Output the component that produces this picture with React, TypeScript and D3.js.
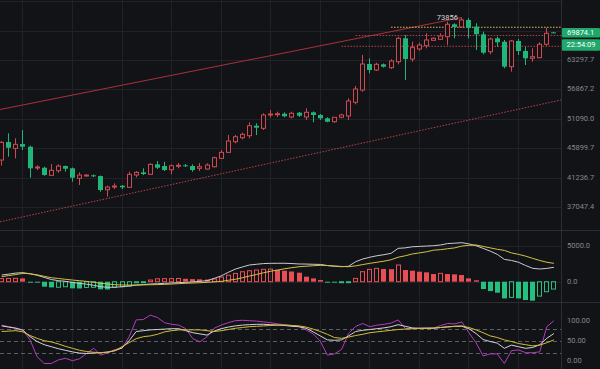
import React from 'react';
import * as d3 from 'd3';

// daily candles, oldest first
const opens = [
  43996, 46970, 45900, 46630, 46180, 42740, 42780, 41615, 42316, 43047,
  42690, 41165, 41555, 41615, 41510, 39491, 39880, 40070, 39837, 41660,
  42070, 41767, 43313, 43047, 42471, 43000, 43156, 43047, 42690, 42580,
  42940, 44270, 45240, 47026, 47710, 48062, 49845, 49377, 51822, 51879,
  52069, 51450, 52260, 51450, 52335, 51822, 51201, 50575, 51396, 51640,
  54275, 56752, 62383, 61036, 62315, 61552, 62907, 68500, 63530, 65880,
  66676, 68002, 68252, 68900, 72077, 71375, 73216, 71453, 69500, 65239,
  68500, 67655, 61775, 67828, 65405, 63690, 63830, 67020, 69994,
];
const closes = [
  46920, 46010, 46580, 46180, 42690, 42890, 41660, 42378, 43047, 42625,
  41255, 41660, 41660, 41465, 39448, 39880, 40026, 39837, 41767, 42070,
  41813, 43313, 42784, 42425, 43094, 43156, 43000, 42425, 42940, 43203,
  44370, 45240, 47146, 47882, 48308, 49845, 49485, 51822, 52012, 52069,
  51580, 52144, 51690, 52335, 51822, 51201, 50575, 51396, 51822, 54532,
  56957, 62383, 61036, 62315, 61775, 63068, 68500, 63530, 66200, 66848,
  68077, 68500, 69073, 72077, 71375, 73216, 71195, 69500, 65003, 68324,
  67507, 61775, 67828, 65405, 63690, 64060, 67020, 69750, 69874.1,
];
const highs = [
  47150, 48490, 47610, 49070, 46350, 43160, 42940, 43360, 43313, 43125,
  42815, 42070, 41767, 41735, 41585, 40070, 40420, 40172, 42163, 42270,
  42690, 43470, 43836, 43725, 43313, 43520, 43360, 43313, 43520, 43470,
  44530, 45626, 48185, 48185, 48594, 50465, 50280, 52144, 52773, 52450,
  52335, 52450, 52393, 53100, 52488, 52012, 51396, 51450, 52069, 55070,
  57584, 64462, 63690, 62680, 62495, 63460, 68900, 69323, 67655, 67410,
  69750, 68700, 69750, 72770, 72340, 73856, 73750, 72340, 70160, 68650,
  68900, 68077, 68077, 68324, 66433, 66053, 67507, 71195, 70120,
];
const lows = [
  43120, 44530, 44270, 45630, 41260, 42420, 41550, 41510, 42010, 42163,
  40655, 40172, 41435, 41360, 39205, 38500, 39592, 39592, 39736, 41315,
  41660, 41660, 42580, 42270, 41767, 42690, 42893, 42163, 42270, 42503,
  42815, 44158, 45128, 46755, 47437, 47610, 48185, 49070, 51322, 51450,
  51396, 51201, 51450, 50888, 50465, 50888, 50465, 50390, 51201, 50888,
  53880, 56410, 60308, 60814, 61596, 61260, 62315, 58856, 62907, 65477,
  66053, 67828, 68077, 66848, 68500, 71246, 68500, 65644, 64626, 64626,
  66433, 61418, 60680, 64462, 62157, 62907, 63690, 66676, 69750,
];

// MACD
const dif = [
  930, 1050, 1200, 1250, 1100, 900, 600, 300, 150, 50,
  -100, -230, -350, -500, -690, -780, -760, -700, -600, -480,
  -400, -320, -280, -230, -180, -130, -90, -20, 50, 140,
  450, 800, 1300, 1750, 2050, 2320, 2420, 2520, 2550, 2560,
  2560, 2520, 2460, 2450, 2420, 2400, 2250, 2150, 2080, 2150,
  2780, 3150, 3400, 3600, 3750, 3940, 4630, 4700, 4850, 4900,
  4950, 5000, 5100, 5300, 5350, 5420, 5250, 5000, 4630, 4250,
  3800, 3100, 2950, 2700, 2250, 1860, 1760, 1850, 2000,
];
const dea = [
  700, 850, 1000, 1160, 1100, 950, 750, 555, 450, 330,
  230, 140, 40, -90, -230, -320, -420, -460, -470, -460,
  -440, -420, -400, -370, -320, -270, -220, -180, -140, -90,
  -20, 40, 200, 330, 550, 790, 1000, 1250, 1450, 1620,
  1800, 1950, 2080, 2150, 2220, 2270, 2240, 2180, 2120, 2080,
  2200, 2380, 2550, 2700, 2850, 3050, 3400, 3600, 3850, 4000,
  4150, 4380, 4450, 4580, 4700, 4950, 5050, 5100, 4900, 4700,
  4500, 4350, 4000, 3800, 3550, 3240, 2950, 2700, 2550,
];
const hist = [
  430, 450, 470, 460, -100, -130, -690, -790, -770, -700,
  -920, -940, -800, -780, -1060, -1080, -790, -690, -600, -150,
  -100, 230, 400, 420, 430, 450, 400, 360, 330, 300,
  380, 650, 900, 1150, 1380, 1520, 1620, 1720, 1750, 1650,
  1520, 1420, 1250, 700, 460, 230, -100, -120, -100, -60,
  460, 1390, 1710, 1850, 1760, 1740, 2320, 1620, 1530, 1390,
  1300, 1065, 1160, 1065, 1020, 925, 460, 200, -1020, -1300,
  -1530, -2320, -2180, -2320, -2550, -2640, -2000, -1390, -1020,
];

// KDJ
const kLine = [
  87, 84, 81, 76, 60, 48, 40, 35, 30, 26,
  22, 19, 18, 19, 20, 22, 25, 32, 50, 73,
  75, 77, 78, 79, 80, 80, 75, 70, 67, 64,
  74, 80, 84, 87, 89, 90, 91, 91, 90, 89,
  88, 86, 85, 81, 72, 62, 52, 51, 52, 62,
  73, 76, 78, 80, 82, 85, 90, 86, 82, 81,
  81, 81, 83, 85, 86, 86, 80, 68, 53, 48,
  44, 31, 39, 35, 31, 33, 40, 56, 68,
];
const dLine = [
  73, 74, 75, 72, 63, 56, 50, 47, 42, 36,
  31, 26, 23, 21, 20, 21, 25, 35, 45, 55,
  60, 62, 66, 72, 75, 77, 77, 77, 77, 75,
  73, 75, 78, 81, 83, 85, 86, 87, 88, 89,
  89, 88, 87, 84, 79, 73, 66, 58, 56, 59,
  63, 66, 70, 72, 74, 76, 78, 79, 80, 81,
  81, 82, 83, 84, 86, 87, 83, 77, 70, 62,
  58, 52, 48, 43, 40, 37, 39, 45, 52,
];
const jLine = [
  89, 85, 82, 77, 52, 10, -7, -7, 2, 6,
  0, 5, 18, 31, 14, 20, 28, 31, 60, 102,
  103, 114, 108, 95, 91, 89, 80, 55, 47, 60,
  81, 89, 95, 100, 101, 100, 99, 97, 95, 92,
  90, 88, 85, 77, 67, 49, 14, 17, 28, 68,
  86, 93, 85, 89, 91, 94, 102, 81, 80, 81,
  82, 81, 88, 93, 92, 97, 70, 45, 12, 17,
  17, -7, 25, 27, 20, 20, 22, 85, 100,
];

const priceTicks = [37047.4, 41236.7, 45899.7, 51090.0, 56867.2, 63297.7];
const priceGridOnly = [70456.2, 78424.5];
const macdTicks = [0, 5000];
const kdjTicks = [0, 50, 100];
const kdjLevels = [20, 50, 80];
const lastPrice = 69874.1;
const countdown = '22:54:09';

// drawn objects: [candle index, price]
const upperTrend: [number, number][] = [[-0.24, 52870], [65, 73856]];
const lowerTrend: [number, number][] = [[-0.24, 35145], [79, 54729]];
const yellowLevel = { price: 71300, from: 55 };
const redLevels = [{ price: 69200, from: 50 }, { price: 66530, from: 48 }];

const W = 600;
const H = 369;
const PR = 561; // right edge of the plot
const SEP1 = 230.5;
const SEP2 = 302.5;

const col = {
  bg: '#121317',
  grid: '#202227',
  sep: '#2c2e34',
  text: '#84878d',
  up: '#cf4a50',
  down: '#21b57a',
  histUp: '#e84f54',
  histDown: '#25c07f',
  dif: '#c9cbd0',
  dea: '#d6c044',
  k: '#d4d4d6',
  d: '#d3bd38',
  j: '#b43cbd',
  trend: '#a8313a',
  level: '#b8434a',
  yellow: '#d9c05a',
  tag: '#1ea86c',
};

export default function App() {
  const n = opens.length;
  const x = d3.scaleLinear().domain([0, n - 1]).range([1.7, 553.9]);
  const yP = d3.scaleLog().domain([37047.4, 63297.7]).range([207.3, 60]);
  const yM = d3.scaleLinear().domain([0, 5000]).range([281.7, 245.7]);
  const yK = d3.scaleLinear().domain([0, 100]).range([360.7, 320.7]);
  const px = (i: number) => Math.floor(x(i)) + 0.5;

  const gridIdx = d3.range(3, n, 7);

  const macdLine = d3.line<number>().x((_, i) => x(i)).y(d => yM(d));
  const kdjLine = d3.line<number>().x((_, i) => x(i)).y(d => yK(d));
  const trendLine = d3.line<[number, number]>().x(d => x(d[0])).y(d => yP(d[1]));

  const hiIdx = d3.maxIndex(highs);
  const font = "Roboto, 'Noto Sans', sans-serif";

  return (
    <svg
      width={W}
      height={H}
      style={{ position: 'fixed', left: 0, top: 0, display: 'block', background: col.bg }}
      fontFamily={font}
    >
      <defs>
        <clipPath id="cMain"><rect x={0} y={0} width={PR} height={SEP1} /></clipPath>
        <clipPath id="cMacd"><rect x={0} y={SEP1} width={PR} height={SEP2 - SEP1} /></clipPath>
        <clipPath id="cKdj"><rect x={0} y={SEP2} width={PR} height={H - SEP2} /></clipPath>
      </defs>
      <rect width={W} height={H} fill={col.bg} />

      {/* grid */}
      {gridIdx.map(i => (
        <line key={'vg' + i} x1={px(i)} x2={px(i)} y1={0} y2={H} stroke={col.grid} />
      ))}
      {[...priceTicks, ...priceGridOnly].map(t => (
        <line key={'hg' + t} x1={0} x2={PR} y1={Math.round(yP(t)) + 0.5} y2={Math.round(yP(t)) + 0.5} stroke={col.grid} />
      ))}
      {macdTicks.map(t => (
        <line key={'mg' + t} x1={0} x2={PR} y1={Math.round(yM(t)) + 0.5} y2={Math.round(yM(t)) + 0.5} stroke={col.grid} />
      ))}
      <line x1={PR + 0.5} x2={PR + 0.5} y1={0} y2={H} stroke={col.sep} />
      <line x1={0} x2={W} y1={SEP1} y2={SEP1} stroke={col.sep} />
      <line x1={0} x2={W} y1={SEP2} y2={SEP2} stroke={col.sep} />

      {/* main panel */}
      <g clipPath="url(#cMain)">
        <path d={trendLine(upperTrend) ?? ''} stroke={col.trend} strokeWidth={1.1} fill="none" />
        <path d={trendLine(lowerTrend) ?? ''} stroke={col.level} strokeWidth={1} strokeDasharray="1.5,1.5" fill="none" />
        <line x1={x(yellowLevel.from)} x2={PR} y1={yP(yellowLevel.price)} y2={yP(yellowLevel.price)}
          stroke={col.yellow} strokeDasharray="1.5,1.5" />
        {redLevels.map(l => (
          <line key={'rl' + l.price} x1={x(l.from)} x2={PR} y1={yP(l.price)} y2={yP(l.price)}
            stroke={col.level} strokeDasharray="1.5,1.5" />
        ))}
        {opens.map((o, i) => {
          const c = closes[i];
          const up = c >= o;
          const color = up ? col.up : col.down;
          const cx = px(i);
          const top = yP(Math.max(o, c));
          const bot = yP(Math.min(o, c));
          const h = Math.max(1, bot - top);
          return (
            <g key={'c' + i}>
              <line x1={cx} x2={cx} y1={yP(highs[i])} y2={yP(lows[i])} stroke={color} />
              {up ? (
                <rect x={cx - 2} y={top} width={4} height={h} fill={col.bg} stroke={color} />
              ) : (
                <rect x={cx - 2.5} y={top} width={5} height={h} fill={color} />
              )}
            </g>
          );
        })}
        <text x={x(hiIdx) - 4} y={yP(highs[hiIdx])} textAnchor="end" dominantBaseline="middle"
          fontSize={7.5} fill="#d2d3d6">{Math.round(highs[hiIdx])}</text>
      </g>

      {/* MACD */}
      <g clipPath="url(#cMacd)">
        {hist.map((v, i) => {
          const hollow = i === 0 || v > hist[i - 1];
          const color = v >= 0 ? col.histUp : col.histDown;
          const cx = px(i);
          const y0 = yM(Math.max(v, 0));
          const h = Math.max(1, Math.abs(yM(v) - yM(0)));
          return hollow ? (
            <rect key={'h' + i} x={cx - 2} y={y0} width={4} height={h} fill="none" stroke={color} />
          ) : (
            <rect key={'h' + i} x={cx - 2.5} y={y0} width={5} height={h} fill={color} />
          );
        })}
        <path d={macdLine(dif) ?? ''} stroke={col.dif} fill="none" strokeWidth={1} />
        <path d={macdLine(dea) ?? ''} stroke={col.dea} fill="none" strokeWidth={1} />
      </g>

      {/* KDJ */}
      <g clipPath="url(#cKdj)">
        {kdjLevels.map(l => (
          <line key={'kl' + l} x1={0} x2={PR} y1={Math.round(yK(l)) + 0.5} y2={Math.round(yK(l)) + 0.5}
            stroke="#5c5f65" strokeDasharray="4,3" />
        ))}
        <path d={kdjLine(jLine) ?? ''} stroke={col.j} fill="none" strokeWidth={1} />
        <path d={kdjLine(kLine) ?? ''} stroke={col.k} fill="none" strokeWidth={1} />
        <path d={kdjLine(dLine) ?? ''} stroke={col.d} fill="none" strokeWidth={1} />
      </g>

      {/* right axis */}
      {priceTicks.map(t => (
        <text key={'pt' + t} x={567} y={yP(t)} dominantBaseline="middle" fontSize={7.5} fill={col.text}>
          {t.toFixed(1)}
        </text>
      ))}
      {macdTicks.map(t => (
        <text key={'mt' + t} x={567} y={yM(t)} dominantBaseline="middle" fontSize={7.5} fill={col.text}>
          {t.toFixed(1)}
        </text>
      ))}
      {kdjTicks.map(t => (
        <text key={'kt' + t} x={567} y={yK(t)} dominantBaseline="middle" fontSize={7.5} fill={col.text}>
          {t.toFixed(2)}
        </text>
      ))}

      {/* last price tag */}
      <rect x={562} y={yP(lastPrice) - 4.8} width={38} height={9.6} fill={col.tag} rx={1} />
      <text x={567} y={yP(lastPrice)} dominantBaseline="middle" fontSize={7.5} fill="#ffffff">
        {lastPrice.toFixed(1)}
      </text>
      <rect x={562} y={yP(lastPrice) + 6.5} width={38} height={11.4} fill={col.tag} rx={1} />
      <text x={566.5} y={yP(lastPrice) + 12.3} dominantBaseline="middle" fontSize={7.5} fill="#ffffff">
        {countdown}
      </text>
    </svg>
  );
}
